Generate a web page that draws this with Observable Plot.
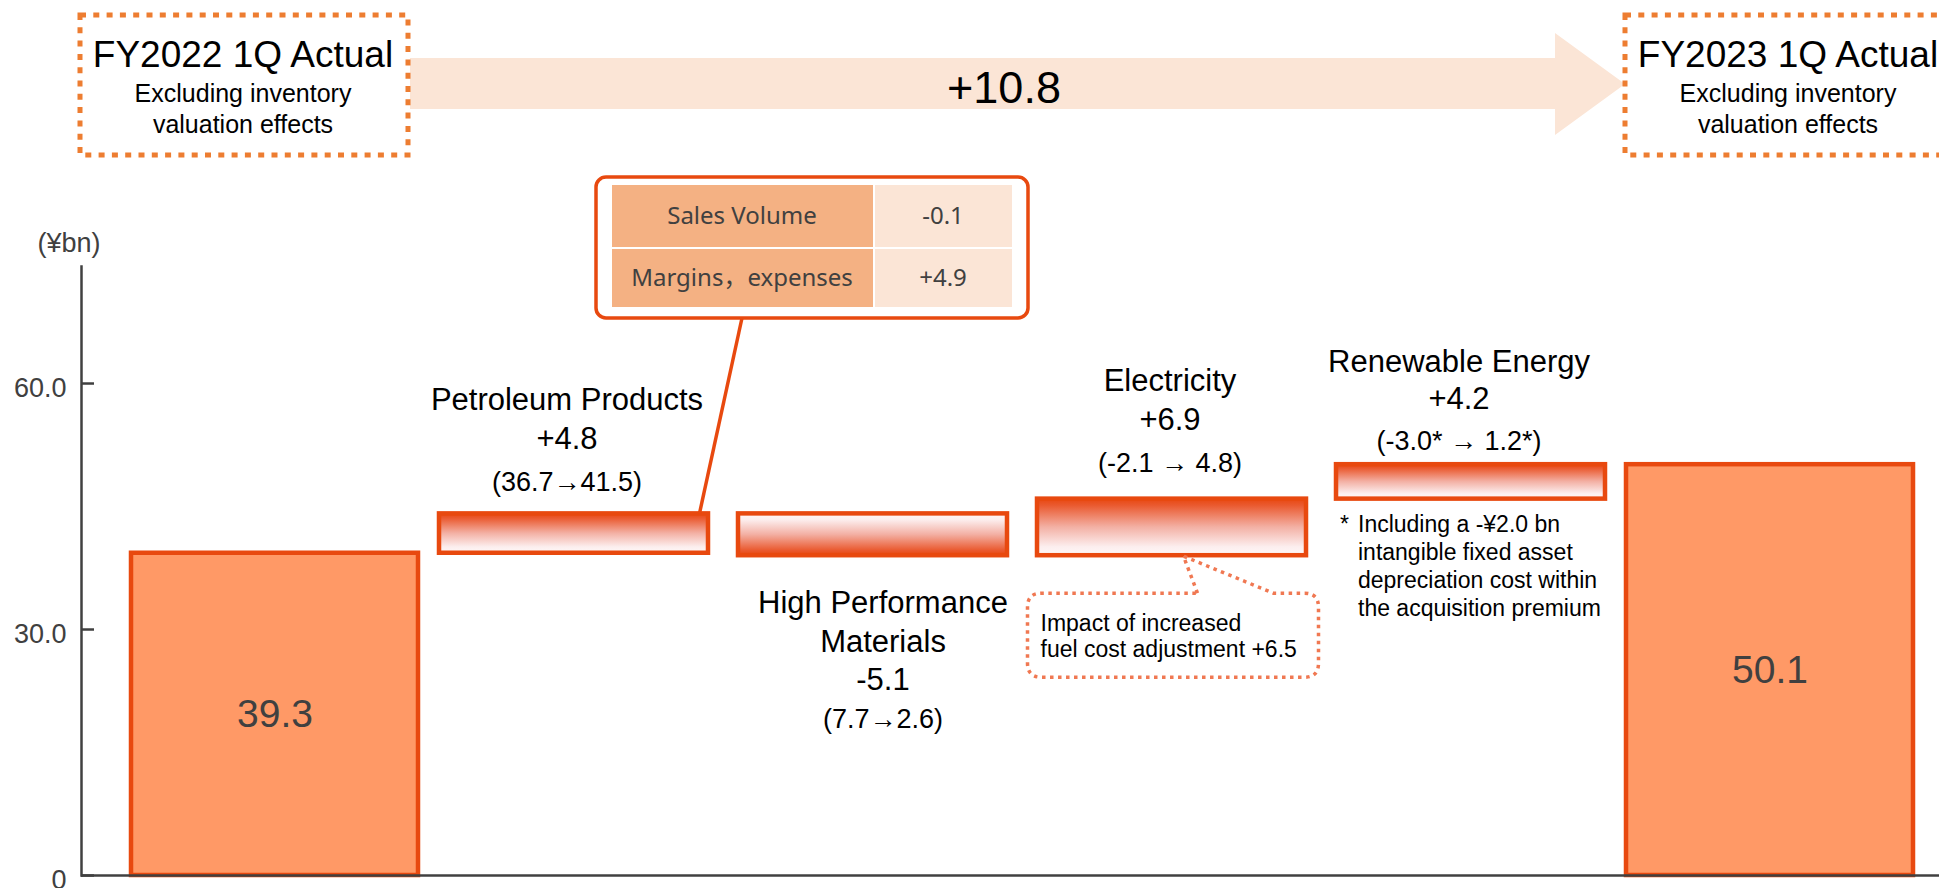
<!DOCTYPE html>
<html>
<head>
<meta charset="utf-8">
<script src="https://cdn.jsdelivr.net/npm/d3@7"></script>
<script src="https://cdn.jsdelivr.net/npm/@observablehq/plot@0.6"></script>
<style>
  html, body { margin: 0; padding: 0; background: #fff; }
  #chart svg { display: block; }
</style>
</head>
<body>
<div id="chart"></div>
<script>
// ---------- data ----------
const categories = ["FY2022 1Q Actual", "Petroleum Products", "High Performance Materials", "Electricity", "Renewable Energy", "FY2023 1Q Actual"];
const startValue = 39.3;
const endValue = 50.1;
const deltas = [4.8, -5.1, 6.9, 4.2];
const deltaNameLines = [["Petroleum Products"], ["High Performance", "Materials"], ["Electricity"], ["Renewable Energy"]];
const deltaRanges = ["(36.7→41.5)", "(7.7→2.6)", "(-2.1 → 4.8)", "(-3.0* → 1.2*)"];
const yTicks = [0, 30, 60];
const yTickLabels = ["0", "30.0", "60.0"];
const unitLabel = "(¥bn)";
const headerSub = ["Excluding inventory", "valuation effects"];
const tableRows = ["Sales Volume", "Margins，expenses"];
const tableValues = ["-0.1", "+4.9"];
const electricityNote = ["Impact of increased", "fuel cost adjustment +6.5"];
const renewableNote = ["Including a -¥2.0 bn", "intangible fixed asset", "depreciation cost within", "the acquisition premium"];

// ---------- derived tables ----------
const totals = [
  {cat: categories[0], value: startValue},
  {cat: categories[5], value: endValue}
];
let run = startValue;
const steps = deltas.map((d, i) => {
  const from = run;
  run = +(run + d).toFixed(1);
  return {cat: categories[i + 1], from, to: run, delta: d, top: Math.max(from, run), bottom: Math.min(from, run)};
});
const fmtDelta = d => (d > 0 ? "+" : "") + d.toFixed(1);

// ---------- styles ----------
const RED = "#E8490F";
const FONT = "'Liberation Sans', Arial, sans-serif";
const labelLayout = [
  {dx: -7, below: false, names: [-114], delta: -75, range: -32},
  {dx: 10, below: true, names: [47, 86], delta: 124, range: 164},
  {dx: -2, below: false, names: [-118], delta: -79, range: -36},
  {dx: -12, below: false, names: [-103], delta: -66, range: -23}
];

const labelMarks = [];
steps.forEach((s, i) => {
  const L = labelLayout[i];
  const yKey = L.below ? "bottom" : "top";
  deltaNameLines[i].forEach((line, j) => {
    labelMarks.push(Plot.text([s], {x: "cat", y: yKey, text: () => line, dx: L.dx, dy: L.names[j], fontSize: 31, fill: "#000"}));
  });
  labelMarks.push(Plot.text([s], {x: "cat", y: yKey, text: d => fmtDelta(d.delta), dx: L.dx, dy: L.delta, fontSize: 31, fill: "#000"}));
  labelMarks.push(Plot.text([s], {x: "cat", y: yKey, text: () => deltaRanges[i], dx: L.dx, dy: L.range, fontSize: 27, fill: "#000"}));
});

// renewable footnote (anchored to the renewable bar's bottom)
const renStep = steps[3];
const noteMarks = [
  Plot.text([renStep], {x: "cat", y: "bottom", text: () => "*", dx: -131, dy: 25, textAnchor: "start", fontSize: 23, fill: "#000"})
];
renewableNote.forEach((line, j) => {
  noteMarks.push(Plot.text([renStep], {x: "cat", y: "bottom", text: () => line, dx: -113, dy: 25 + 28 * j, textAnchor: "start", fontSize: 23, fill: "#000"}));
});

const chart = Plot.plot({
  width: 1939,
  height: 888,
  marginLeft: 81,
  marginRight: 0,
  marginTop: 266,
  marginBottom: 13,
  style: {fontFamily: FONT, background: "#fff", overflow: "hidden"},
  x: {type: "band", domain: categories, range: [123.25, 1920], padding: 0, axis: null},
  y: {domain: [0, 74.27]},
  marks: [
    Plot.barY(totals, {x: "cat", y1: 0, y2: "value", fill: "#FF9966", stroke: RED, strokeWidth: 4.5, insetLeft: 6, insetRight: 6}),
    Plot.barY(steps.filter(d => d.delta > 0), {x: "cat", y1: "from", y2: "to", fill: "url(#gradUp)", stroke: RED, strokeWidth: 4.5, insetLeft: 15, insetRight: 15}),
    Plot.barY(steps.filter(d => d.delta < 0), {x: "cat", y1: "from", y2: "to", fill: "url(#gradDown)", stroke: RED, strokeWidth: 4.5, insetLeft: 15, insetRight: 15}),
    Plot.text(totals, {x: "cat", y: d => d.value / 2, text: d => d.value.toFixed(1), fontSize: 39, fill: "#404040"}),
    Plot.frame({anchor: "left", stroke: "#404040", strokeWidth: 2.5}),
    Plot.ruleY([0], {stroke: "#404040", strokeWidth: 2.5}),
    Plot.axisY({ticks: yTicks, tickSize: -13, tickFormat: () => "", stroke: "#404040", strokeWidth: 2.5, label: null}),
    Plot.axisY({ticks: yTicks, tickSize: 0, tickPadding: 15, tickFormat: (d, i) => yTickLabels[i], fontSize: 27, fill: "#404040", dy: 5, label: null}),
    ...labelMarks,
    ...noteMarks
  ]
});
document.getElementById("chart").appendChild(chart);

// ---------- decorations ----------
const sx = chart.scale("x"), sy = chart.scale("y");
const cx = c => sx.apply(c) + sx.bandwidth / 2;
const svg = d3.select(chart);

const defs = svg.insert("defs", ":first-child");
function gradient(id, flip) {
  const g = defs.append("linearGradient").attr("id", id)
    .attr("x1", 0).attr("x2", 0).attr("y1", flip ? 1 : 0).attr("y2", flip ? 0 : 1);
  [[0, "#E8470F"], [0.12, "#EA5A30"], [0.5, "#F3B0A4"], [0.85, "#FCEEEE"], [1, "#FFF8F8"]]
    .forEach(([o, c]) => g.append("stop").attr("offset", o).attr("stop-color", c));
}
gradient("gradUp", false);
gradient("gradDown", true);

const ann = svg.append("g").attr("font-family", FONT).attr("text-anchor", "start");

// big arrow
ann.append("polygon")
  .attr("points", [[410, 58], [1555, 58], [1555, 33], [1625, 84], [1555, 135], [1555, 109], [410, 109]].map(p => p.join(",")).join(" "))
  .attr("fill", "#FBE5D6");
ann.append("text").attr("x", 1004).attr("y", 87).attr("dy", "0.35em")
  .attr("text-anchor", "middle").attr("font-size", 45).attr("fill", "#000")
  .text(fmtDelta(+(endValue - startValue).toFixed(1)));

// header boxes
function headerBox(x, title) {
  ann.append("rect").attr("x", x).attr("y", 15).attr("width", 328).attr("height", 140)
    .attr("fill", "none").attr("stroke", "#ED7D31").attr("stroke-width", 5).attr("stroke-dasharray", "6 7.3");
  ann.append("text").attr("x", x + 163).attr("y", 67).attr("text-anchor", "middle")
    .attr("font-size", 37).attr("fill", "#000").text(title);
  headerSub.forEach((s, i) => ann.append("text").attr("x", x + 163).attr("y", 102 + 31 * i)
    .attr("text-anchor", "middle").attr("font-size", 25).attr("fill", "#000").text(s));
}
headerBox(80, categories[0]);
headerBox(1625, categories[5]);

// unit label
ann.append("text").attr("x", 69).attr("y", 252).attr("text-anchor", "middle")
  .attr("font-size", 27).attr("fill", "#404040").text(unitLabel);

// petroleum breakdown table
const ppC = cx(categories[1]);
const ppTop = sy.apply(steps[0].top);
ann.append("line").attr("x1", 742).attr("y1", 318).attr("x2", ppC + 126).attr("y2", ppTop)
  .attr("stroke", RED).attr("stroke-width", 3.5);
ann.append("rect").attr("x", 596).attr("y", 177).attr("width", 432).attr("height", 141).attr("rx", 10)
  .attr("fill", "#fff").attr("stroke", RED).attr("stroke-width", 3.5);
const rowY = [[185, 62], [249, 58]];
tableRows.forEach((r, i) => {
  const [y0, h] = rowY[i];
  ann.append("rect").attr("x", 612).attr("y", y0).attr("width", 261).attr("height", h).attr("fill", "#F4B183");
  ann.append("rect").attr("x", 875).attr("y", y0).attr("width", 137).attr("height", h).attr("fill", "#FBE5D6");
  ann.append("text").attr("x", 742).attr("y", y0 + h / 2).attr("dy", "0.35em").attr("text-anchor", "middle")
    .attr("font-family", "'Noto Sans', 'Noto Sans CJK JP', sans-serif").attr("font-size", 24).attr("fill", "#404040").text(r);
  ann.append("text").attr("x", 943).attr("y", y0 + h / 2).attr("dy", "0.35em").attr("text-anchor", "middle")
    .attr("font-family", "'Noto Sans', sans-serif").attr("font-size", 24).attr("fill", "#404040").text(tableValues[i]);
});

// electricity callout
const eC = cx(categories[3]);
const eB = sy.apply(steps[2].bottom);
{
  const L = eC - 144, R = eC + 147, T = eB + 38, B = eB + 122, r = 14;
  const bl = eC + 26, br = eC + 102, tipX = eC + 12, tipY = eB + 1;
  const p = d3.path();
  p.moveTo(bl, T); p.lineTo(tipX, tipY); p.lineTo(br, T);
  p.lineTo(R - r, T); p.quadraticCurveTo(R, T, R, T + r);
  p.lineTo(R, B - r); p.quadraticCurveTo(R, B, R - r, B);
  p.lineTo(L + r, B); p.quadraticCurveTo(L, B, L, B - r);
  p.lineTo(L, T + r); p.quadraticCurveTo(L, T, L + r, T);
  p.closePath();
  ann.append("path").attr("d", p.toString()).attr("fill", "#fff")
    .attr("stroke", "#F07852").attr("stroke-width", 3.5).attr("stroke-dasharray", "3.5 4.5");
  electricityNote.forEach((t, i) => ann.append("text").attr("x", eC - 131).attr("y", eB + 76 + 26 * i)
    .attr("text-anchor", "start").attr("font-size", 23).attr("fill", "#000").text(t));
}
</script>
</body>
</html>
